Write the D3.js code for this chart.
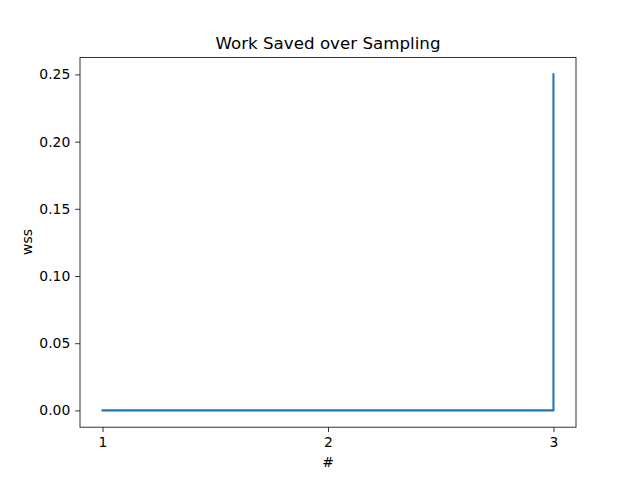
<!DOCTYPE html>
<html><head><meta charset="utf-8">
<script src="https://cdn.jsdelivr.net/npm/d3@7"></script>
<style>
body{margin:0;background:#fff;}
text{font-family:"DejaVu Sans",sans-serif;fill:#000;}
</style></head>
<body><svg id="c" width="640" height="480"></svg>
<script>
const xValues = [1, 2, 3, 3];
const wssValues = [0, 0, 0, 0.25];
const xTicks = [1, 2, 3];
const yTicks = [0, 0.05, 0.10, 0.15, 0.20, 0.25];
const titleText = "Work Saved over Sampling";
const xLabel = "#";
const yLabel = "wss";

const svg = d3.select("#c");
const L = 80, R = 576, T = 57.6, B = 427.2;
const x = d3.scale = d3.scaleLinear().domain([0.9, 3.1]).range([L, R]);
const y = d3.scaleLinear().domain([-0.0125, 0.2625]).range([B, T]);
svg.append("rect").attr("width",640).attr("height",480).attr("fill","#fff");

const xa = svg.append("g").attr("transform",`translate(0,${B})`)
  .call(d3.axisBottom(x).tickValues(xTicks).tickFormat(d3.format("d")).tickSizeOuter(0).tickSize(4.86).tickPadding(4.86));
const ya = svg.append("g").attr("transform",`translate(${L},0)`)
  .call(d3.axisLeft(y).tickValues(yTicks).tickFormat(d3.format(".2f")).tickSizeOuter(0).tickSize(4.86).tickPadding(4.86));
[xa,ya].forEach(a=>{
  a.select(".domain").remove();
  a.selectAll("line").attr("stroke","#000").attr("stroke-width",0.8);
  a.selectAll("text").style("font-family","DejaVu Sans").style("font-size","13.9px").attr("fill","#000");
});

const line = d3.line().x((d,i)=>x(xValues[i])).y(d=>y(d));
svg.append("path").datum(wssValues).attr("d",line).attr("fill","none")
  .attr("stroke","#1f77b4").attr("stroke-width",2.08).attr("stroke-linecap","square").attr("stroke-linejoin","round");

svg.append("rect").attr("x",L).attr("y",T).attr("width",R-L).attr("height",B-T)
  .attr("fill","none").attr("stroke","#000").attr("stroke-width",0.8);

svg.append("text").attr("x",(L+R)/2).attr("y",49.3).attr("text-anchor","middle")
  .style("font-size","16.7px").text(titleText);
svg.append("text").attr("x",(L+R)/2).attr("y",467).attr("text-anchor","middle")
  .style("font-size","13.9px").text(xLabel);
svg.append("text").attr("transform","translate(32,242) rotate(-90)").attr("text-anchor","middle")
  .style("font-size","13.9px").text(yLabel);
</script></body></html>
